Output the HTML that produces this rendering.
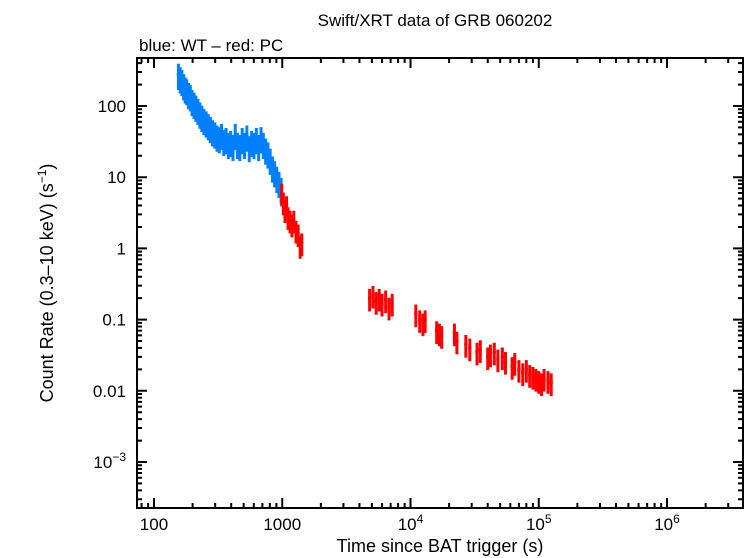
<!DOCTYPE html>
<html><head><meta charset="utf-8"><style>
body{margin:0;background:#fff;}
svg{display:block;font-family:"Liberation Sans",sans-serif;}
</style></head><body>
<svg id="chart" width="746" height="558" viewBox="0 0 746 558">
<text x="435" y="26" font-size="17" text-anchor="middle">Swift/XRT data of GRB 060202</text>
<text x="139" y="51" font-size="17">blue: WT – red: PC</text>
<text x="440" y="552" font-size="18" text-anchor="middle">Time since BAT trigger (s)</text>
<text transform="translate(53,283) rotate(-90)" font-size="18" text-anchor="middle">Count Rate (0.3–10 keV) (s<tspan dy="-7" font-size="12">−1</tspan><tspan dy="7">)</tspan></text>
<g id="axes"></g>
<g id="marks"></g>
<rect x="137" y="58" width="606" height="450" fill="none" stroke="#000" stroke-width="2"/>
</svg>
<script>
const wtTimes=[155,160,165,170,175,180,186,192,198,205,212,220,228,236,245,255,265,275,286,298,310,323,336,350,365,380,396,413,430,448,467,487,508,530,553,577,602,628,655,683,712,742,773,805,838,872,907,943,980];
const wtRates=[280,250,230,200,180,170,150,140,120,110,100,90,80,72,65,60,55,50,45,42,38,36,40,33,35,30,32,28,40,30,28,35,30,38,27,32,30,35,28,36,30,25,22,18,14,12,10,8.5,7];
const pcTimes=[990,1020,1050,1080,1110,1150,1190,1230,1280,1330,1380,1420,4800,5100,5400,5700,6000,6400,6800,7200,11000,11800,12500,13000,16000,16800,17500,22000,23000,27000,29000,33000,35000,40000,42000,45000,48000,52000,55000,62000,65000,70000,75000,80000,85000,90000,95000,100000,105000,110000,118000,125000];
const pcRates=[6,4.5,3.5,4,2.8,2.5,2.2,2.5,1.8,1.6,1.1,1.2,0.2,0.22,0.18,0.2,0.17,0.19,0.15,0.17,0.12,0.1,0.09,0.1,0.07,0.065,0.06,0.065,0.05,0.045,0.04,0.035,0.038,0.03,0.033,0.035,0.028,0.03,0.026,0.022,0.025,0.02,0.018,0.02,0.017,0.016,0.015,0.014,0.013,0.015,0.014,0.013];
const xTickVals=[100,1000,1e4,1e5,1e6];
const xTickLabels=["100","1000","10^4","10^5","10^6"];
const yTickVals=[100,10,1,0.1,0.01,0.001];
const yTickLabels=["100","10","1","0.1","0.01","10^-3"];
const NS="http://www.w3.org/2000/svg";
const L=137,R=743,T=58,B=508;
const xmin=Math.log10(100)-17/128.3, xmax=6+76/128.3;
const ymax=2+48/71.2, ymin=-3-46/71.2;
const xs=t=>L+(Math.log10(t)-xmin)/(xmax-xmin)*(R-L);
const ys=v=>T+(ymax-Math.log10(v))/(ymax-ymin)*(B-T);
function mk(tag,attrs,parent){const e=document.createElementNS(NS,tag);for(const k in attrs)e.setAttribute(k,attrs[k]);parent.appendChild(e);return e;}
const axes=document.getElementById('axes'),marks=document.getElementById('marks');
function lbl(parent,x,y,s,anchor){
  const t=mk('text',{x:x,y:y,'font-size':17,'text-anchor':anchor},parent);
  if(s.indexOf('^')>=0){const p=s.split('^');t.textContent=p[0];const sp=mk('tspan',{dy:-7,'font-size':12},t);sp.textContent=p[1].replace('-','−');}
  else t.textContent=s;
  return t;
}
// x ticks
for(let d=1;d<=6;d++)for(let m=1;m<10;m++){const v=m*Math.pow(10,d);const x=xs(v);if(x<L||x>R)continue;const len=m===1?10:5;
  const tk=mk('path',{d:`M${x},${B}v${-len}M${x},${T}v${len}`,stroke:'#000','stroke-width':2},axes);
  
  }
xTickVals.forEach((v,i)=>{const t=lbl(axes,xs(v),530,xTickLabels[i],'middle');
  
  });
for(let d=-4;d<=2;d++)for(let m=1;m<10;m++){const v=m*Math.pow(10,d);const y=ys(v);if(y<T||y>B)continue;const len=m===1?10:5;
  const tk=mk('path',{d:`M${L},${y}h${len}M${R},${y}h${-len}`,stroke:'#000','stroke-width':2},axes);
  
  }
yTickVals.forEach((v,i)=>{const t=lbl(axes,126,ys(v)+6,yTickLabels[i],'end');
  
  });
function series(times,rates,color,err,name){
  times.forEach((t,i)=>{const r=rates[i];const x=xs(t),y=ys(r);
    const g=mk('path',{d:`M${x},${ys(r*(1+err))}V${ys(r*(1-err))}M${xs(t*0.97)},${y}H${xs(t*1.03)}`,stroke:color,'stroke-width':3,fill:'none'},marks);
    
    });
}
series(wtTimes,wtRates,'#0080ff',0.4,'wt-point');
series(pcTimes,pcRates,'#ff0000',0.35,'pc-point');
</script>
</body></html>
